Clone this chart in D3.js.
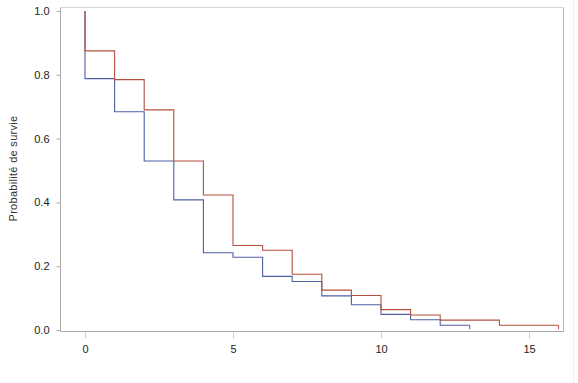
<!DOCTYPE html>
<html><head><meta charset="utf-8">
<script src="https://cdn.jsdelivr.net/npm/d3@7/dist/d3.min.js"></script>
<style>body{margin:0;background:#fff;} text{font-family:"Liberation Sans",Arial,sans-serif;}</style>
</head><body><svg id="c" width="578" height="383"></svg>
<script>
const times = [0,1,2,3,4,5,6,7,8,9,10,11,12,13,14,15,16];
const redSurv  = [1.0,0.875,0.785,0.69,0.53,0.423,0.265,0.25,0.175,0.125,0.108,0.064,0.047,0.031,0.031,0.015,0.015];
const redEnd = 16;
const blueSurv = [1.0,0.788,0.684,0.53,0.408,0.242,0.228,0.168,0.152,0.107,0.079,0.049,0.032,0.015];
const blueEnd = 13;
const xTicks = [0,5,10,15];
const yTicks = [0,0.2,0.4,0.6,0.8,1.0];
const yLabel = "Probabilité de survie";

const svg = d3.select("#c");
const x = d3.scaleLinear().domain([0,15]).range([85,529]);
const y = d3.scaleLinear().domain([0,1]).range([330,11]);
const L=60.5, R=563.5, T=7.5, B=331.5;

// frame
svg.append("line").attr("x1",L).attr("x2",R).attr("y1",T).attr("y2",T).attr("stroke","#d8d8d8");
svg.append("line").attr("x1",R).attr("x2",R).attr("y1",T).attr("y2",B).attr("stroke","#b8b8b8");
svg.append("line").attr("x1",L).attr("x2",L).attr("y1",T).attr("y2",B).attr("stroke","#aaa");
svg.append("line").attr("x1",L).attr("x2",R).attr("y1",B).attr("y2",B).attr("stroke","#aaa");
svg.append("line").attr("x1",573.5).attr("x2",573.5).attr("y1",0).attr("y2",383).attr("stroke","#eee");

// y axis
const ya = svg.append("g").attr("transform",`translate(${L},0)`)
  .call(d3.axisLeft(y).tickValues(yTicks).tickFormat(d3.format(".1f")).tickSize(4).tickPadding(7));
ya.select(".domain").remove();
ya.selectAll("line").attr("stroke","#aaa");
ya.selectAll("text").attr("font-size",11).attr("fill","#222").attr("font-family","Liberation Sans, Arial, sans-serif");

// x axis
const xa = svg.append("g").attr("transform",`translate(0,${B+1})`)
  .call(d3.axisBottom(x).tickValues(xTicks).tickFormat(d3.format("d")).tickSize(6).tickPadding(7));
xa.select(".domain").remove();
xa.selectAll("line").attr("stroke","#ccc");
xa.selectAll("text").attr("font-size",11).attr("fill","#222").attr("font-family","Liberation Sans, Arial, sans-serif");

svg.append("text").attr("transform",`translate(17,${(11+330)/2 - 2}) rotate(-90)`)
  .attr("text-anchor","middle").attr("font-size",11).attr("letter-spacing","0.3px")
  .attr("fill","#333").text(yLabel);

const line = d3.line().x(d=>x(d[0])).y(d=>y(d[1]));
function draw(surv,end,col){
  const pp=[[0,1]];
  for(let i=1;i<surv.length;i++){
    const t0=times[i-1], t1=(i<surv.length-1)?times[i]:end;
    pp.push([t0,surv[i]]); pp.push([t1,surv[i]]);
  }
  svg.append("path").attr("d",line(pp)).attr("fill","none").attr("stroke",col).attr("stroke-width",1.1);
  const last=surv[surv.length-1];
  svg.append("line").attr("x1",x(end)).attr("x2",x(end)).attr("y1",y(last)).attr("y2",y(last)+4)
    .attr("stroke",col).attr("stroke-width",1);
}
draw(blueSurv,blueEnd,"#4f5fa3");
draw(redSurv,redEnd,"#b5503f");
</script></body></html>
